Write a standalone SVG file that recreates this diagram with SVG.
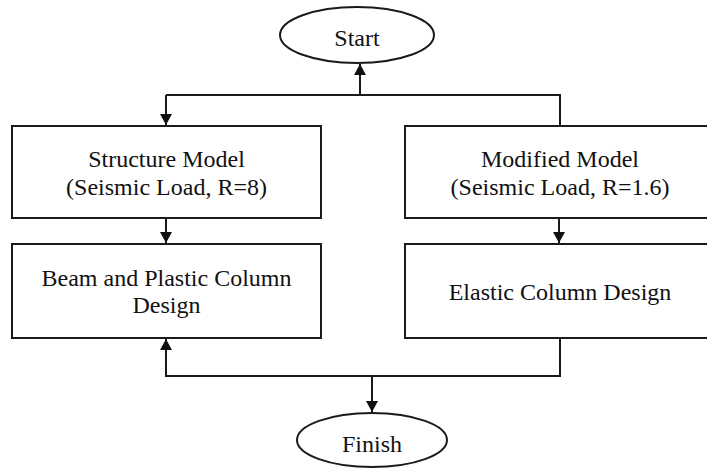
<svg xmlns="http://www.w3.org/2000/svg" width="707" height="468" viewBox="0 0 707 468">
<defs>
<marker id="ah" viewBox="0 0 12 13" refX="12" refY="6.5" markerWidth="13" markerHeight="12" markerUnits="userSpaceOnUse" orient="auto">
<path d="M0,0 L12,6.5 L0,13 Z" fill="#111"/>
</marker>
</defs>
<rect width="707" height="468" fill="#fff"/>
<g id="connectors" fill="none" stroke="#1a1a1a" stroke-width="2">
<path d="M360,95 V64" marker-end="url(#ah)"/>
<path d="M166,95 H560 V126"/>
<path d="M166,95 V125" marker-end="url(#ah)"/>
<path d="M166,218 V243" marker-end="url(#ah)"/>
<path d="M559,218 V243" marker-end="url(#ah)"/>
<path d="M560,338 V376 H166 V339" marker-end="url(#ah)"/>
<path d="M372,376 V412" marker-end="url(#ah)"/>
</g>
<g id="start">
<ellipse cx="357" cy="35" rx="77" ry="28" fill="#fff" stroke="#1a1a1a" stroke-width="2"/>
<text x="357" y="46" font-family="Liberation Serif" font-size="24" fill="#111" text-anchor="middle">Start</text>
</g>
<g id="structure-model">
<rect x="12" y="126" width="309" height="92" fill="#fff" stroke="#1a1a1a" stroke-width="2"/>
<text x="166.5" y="167" font-family="Liberation Serif" font-size="24" fill="#111" text-anchor="middle">Structure Model</text>
<text x="166.5" y="195" font-family="Liberation Serif" font-size="24" fill="#111" text-anchor="middle">(Seismic Load, R=8)</text>
</g>
<g id="modified-model">
<rect x="405" y="126" width="310" height="92" fill="#fff" stroke="#1a1a1a" stroke-width="2"/>
<text x="560" y="167" font-family="Liberation Serif" font-size="24" fill="#111" text-anchor="middle">Modified Model</text>
<text x="560" y="195" font-family="Liberation Serif" font-size="24" fill="#111" text-anchor="middle">(Seismic Load, R=1.6)</text>
</g>
<g id="beam-design">
<rect x="12" y="244" width="309" height="94" fill="#fff" stroke="#1a1a1a" stroke-width="2"/>
<text x="166.5" y="286" font-family="Liberation Serif" font-size="24" fill="#111" text-anchor="middle">Beam and Plastic Column</text>
<text x="166.5" y="313" font-family="Liberation Serif" font-size="24" fill="#111" text-anchor="middle">Design</text>
</g>
<g id="elastic-design">
<rect x="405" y="244" width="310" height="94" fill="#fff" stroke="#1a1a1a" stroke-width="2"/>
<text x="560" y="300" font-family="Liberation Serif" font-size="24" fill="#111" text-anchor="middle">Elastic Column Design</text>
</g>
<g id="finish">
<ellipse cx="372" cy="440" rx="75" ry="27" fill="#fff" stroke="#1a1a1a" stroke-width="2"/>
<text x="372" y="452" font-family="Liberation Serif" font-size="24" fill="#111" text-anchor="middle">Finish</text>
</g>
</svg>
